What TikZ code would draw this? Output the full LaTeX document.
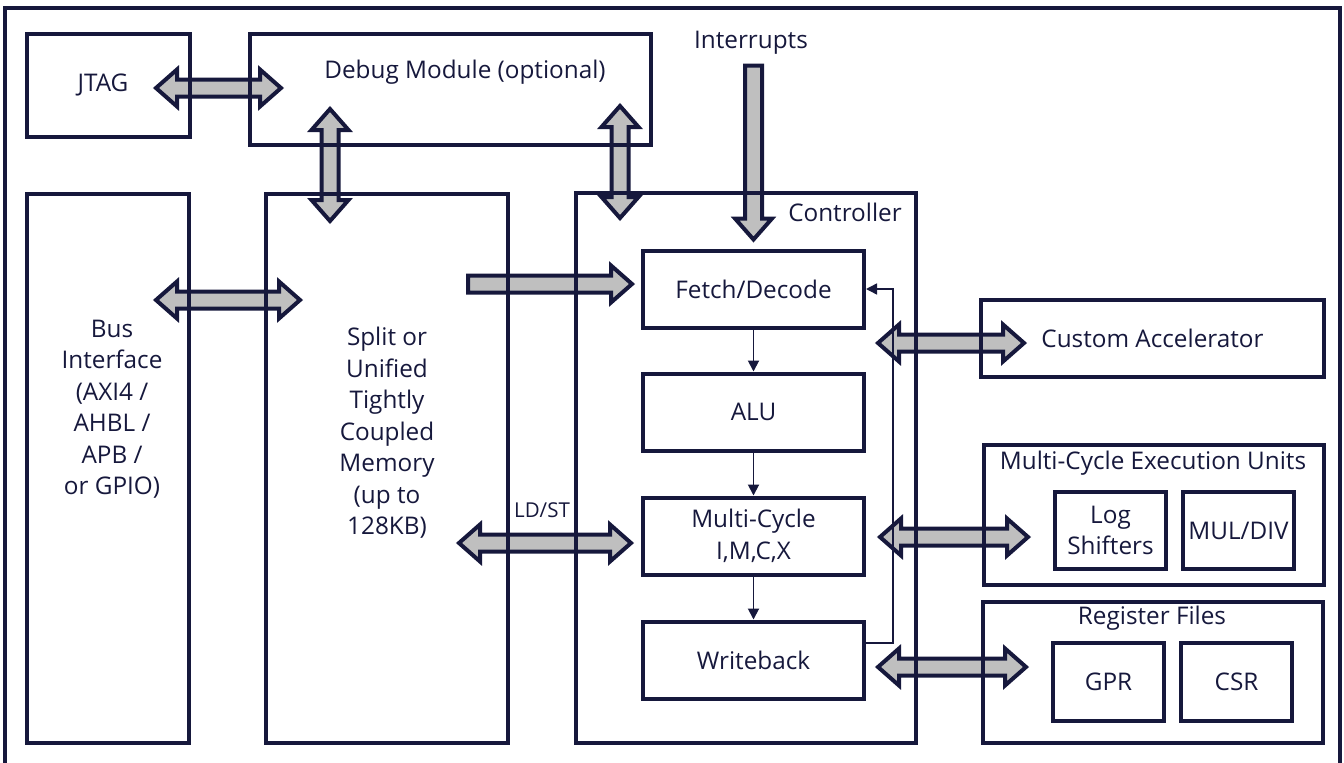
\documentclass[tikz,border=0pt]{standalone}
\usepackage{fontspec}
\setmainfont{Open Sans}
\usetikzlibrary{calc,arrows.meta}
\definecolor{navy}{RGB}{22,24,60}
\definecolor{agray}{RGB}{191,191,191}
\pgfdeclarelayer{bg}
\pgfsetlayers{bg,main}
\newcommand\dblH[2]{\draw[blk] (#1) -- ($(#1)+(21,-18.5)$) -- ($(#1)+(21,-8.5)$) -- ($(#2)+(-21,-8.5)$) -- ($(#2)+(-21,-18.5)$) -- (#2) -- ($(#2)+(-21,18.5)$) -- ($(#2)+(-21,8.5)$) -- ($(#1)+(21,8.5)$) -- ($(#1)+(21,18.5)$) -- cycle;}
\newcommand\dblV[2]{\draw[blk] (#1) -- ($(#1)+(18.5,21)$) -- ($(#1)+(8.5,21)$) -- ($(#2)+(8.5,-21)$) -- ($(#2)+(18.5,-21)$) -- (#2) -- ($(#2)+(-18.5,-21)$) -- ($(#2)+(-8.5,-21)$) -- ($(#1)+(-8.5,21)$) -- ($(#1)+(-18.5,21)$) -- cycle;}
\newcommand\sglH[2]{\draw[blk] ($(#1)+(0,-8.5)$) -- ($(#2)+(-21,-8.5)$) -- ($(#2)+(-21,-18.5)$) -- (#2) -- ($(#2)+(-21,18.5)$) -- ($(#2)+(-21,8.5)$) -- ($(#1)+(0,8.5)$) -- cycle;}
\newcommand\sglV[2]{\draw[blk] ($(#1)+(-8.5,0)$) -- ($(#2)+(-8.5,-21)$) -- ($(#2)+(-18.5,-21)$) -- (#2) -- ($(#2)+(18.5,-21)$) -- ($(#2)+(8.5,-21)$) -- ($(#1)+(8.5,0)$) -- cycle;}
\begin{document}
\begin{tikzpicture}[x=1pt,y=-1pt,
  every node/.style={font=\fontsize{24.3}{31.5}\selectfont},
  box/.style={draw=navy,line width=4pt,inner sep=0pt,align=center,text=navy},
  lbl/.style={text=navy,inner sep=0pt,align=center},
  blk/.style={draw=navy,fill=agray,line width=4pt,line join=miter},
  flow/.style={draw=navy,line width=1.9pt,-{Triangle[length=11pt,width=11pt]}}]
\clip (0,0) rectangle (1344,763);
% outer frame
\draw[navy,line width=4pt] (5,8) rectangle (1340,800);
% boxes
\node[box,minimum width=163,minimum height=103] (jtag) at (108.5,85.5) {};
\node[lbl] (jtaglbl) at (103,85) {JTAG};
\node[box,minimum width=401,minimum height=111] (debug) at (450.5,89.5) {};
\node[lbl] (debuglbl) at (465,72) {Debug Module (optional)};
\node[box,minimum width=162,minimum height=549] (bus) at (108,468.5) {};
\node[lbl] (buslbl) at (112,409) {Bus\\Interface\\(AXI4 /\\AHBL /\\APB /\\or GPIO)};
\node[box,minimum width=242,minimum height=549] (memory) at (387,468.5) {};
\node[lbl] (memlbl) at (387,433) {Split or\\Unified\\Tightly\\Coupled\\Memory\\(up to\\128KB)};
\node[box,minimum width=340,minimum height=550] (controller) at (746,468) {};
\node[lbl] (ctrllbl) at (845,212) {Controller};
\node[lbl] (intr) at (751,43) {Interrupts};
\node[box,minimum width=221,minimum height=77] (fetch) at (753.5,289) {Fetch/Decode};
\node[box,minimum width=221,minimum height=77] (alu) at (753.5,412) {ALU};
\node[box,minimum width=221,minimum height=77] (multi) at (753.5,536) {Multi-Cycle\\I,M,C,X};
\node[box,minimum width=221,minimum height=77] (wb) at (753.5,660) {Writeback};
\node[box,minimum width=343,minimum height=77] (cust) at (1152.5,338.5) {Custom Accelerator};
\node[box,minimum width=340,minimum height=140] (mceu) at (1154,515) {};
\node[lbl] (mceulbl) at (1153,463) {Multi-Cycle Execution Units};
\node[box,minimum width=111,minimum height=77] (log) at (1110.5,530.5) {Log\\Shifters};
\node[box,minimum width=111,minimum height=77] (muldiv) at (1238.5,530.5) {MUL/DIV};
\node[box,minimum width=340,minimum height=141] (regf) at (1153,672.5) {};
\node[lbl] (regflbl) at (1152,618) {Register Files};
\node[box,minimum width=111,minimum height=78] (gpr) at (1108.5,682) {GPR};
\node[box,minimum width=111,minimum height=78] (csr) at (1236.5,682) {CSR};
\node[lbl,font=\fontsize{20.5}{24}\selectfont] (ldst) at (542,510) {LD/ST};
% thin flow arrows
\draw[flow] (fetch) -- (alu);
\draw[flow] (alu) -- (multi);
\draw[flow] (multi) -- (wb);
\draw[flow,line width=1.5pt] ($(wb.east)+(0,-17)$) -- ++(27,0) |- (fetch.east);
% block arrows
\begin{pgfonlayer}{bg}
\dblH{$(jtag.east)+(-36,2.5)$}{$(debug.west)+(33,-1.5)$}
\dblV{$(debug.south)+(-120.5,-38)$}{$(memory.north)+(-57,29)$}
\dblV{$(debug.south)+(169.5,-41)$}{$(controller.north)+(-126,27)$}
\sglV{$(fetch.north)+(0,-183)$}{$(fetch.north)+(0,-9)$}
\dblH{$(bus.east)+(-35,-168.5)$}{$(memory.west)+(36,-168.5)$}
\sglH{$(memory.east)+(-42,-184.5)$}{$(fetch.west)+(-9,-5)$}
\dblH{$(memory.east)+(-51,74.5)$}{$(multi.west)+(-10,7)$}
\dblH{$(controller.east)+(-40,-125)$}{$(cust.west)+(45,4.5)$}
\dblH{$(controller.east)+(-38,69)$}{$(mceu.west)+(46,22)$}
\dblH{$(controller.east)+(-40,199)$}{$(regf.west)+(45,-5.5)$}
\end{pgfonlayer}
\end{tikzpicture}
\end{document}
